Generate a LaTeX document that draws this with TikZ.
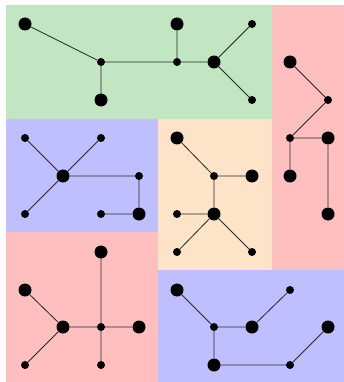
\documentclass[tikz,border=0pt]{standalone}
\begin{document}
\begin{tikzpicture}[x=1pt,y=-1pt,
  pgreen/.style={fill={rgb,255:red,194;green,229;blue,194}},
  pblue/.style={fill={rgb,255:red,191;green,191;blue,255}},
  pred/.style={fill={rgb,255:red,255;green,191;blue,191}},
  porange/.style={fill={rgb,255:red,253;green,228;blue,200}},
  big/.style={circle,fill=black,inner sep=0pt,minimum size=13pt},
  sml/.style={circle,fill=black,inner sep=0pt,minimum size=8pt},
  edge/.style={draw=black!85,line width=0.8pt}]
\useasboundingbox (0,0) rectangle (344,382);
% regions
\path[pgreen] (6,5) rectangle (272,119);
\path[pred] (272,5) rectangle (344,270);
\path[pblue] (6,119) rectangle (158,232);
\path[porange] (158,119) rectangle (272,270);
\path[pred] (6,232) rectangle (158,382);
\path[pblue] (158,270) rectangle (344,382);
% top tree
\node[big] (g1) at (25,24) {};
\node[sml] (g2) at (101,62) {};
\node[big] (g3) at (101,100) {};
\node[big] (g4) at (177,24) {};
\node[sml] (g5) at (177,62) {};
\node[big] (g6) at (214,62) {};
\node[sml] (g7) at (252,24) {};
\node[sml] (g8) at (252,100) {};
\draw[edge] (g1)--(g2) (g2)--(g3) (g2)--(g5) (g4)--(g5) (g5)--(g6) (g6)--(g7) (g6)--(g8);
% right tree
\node[big] (r1) at (290,62) {};
\node[sml] (r2) at (328,100) {};
\node[sml] (r3) at (290,138) {};
\node[big] (r4) at (328,138) {};
\node[big] (r5) at (290,176) {};
\node[big] (r6) at (328,214) {};
\draw[edge] (r1)--(r2) (r2)--(r3) (r3)--(r4) (r3)--(r5) (r4)--(r6);
% left middle tree
\node[sml] (b1) at (25,138) {};
\node[sml] (b2) at (101,138) {};
\node[big] (b3) at (63,176) {};
\node[sml] (b4) at (139,176) {};
\node[sml] (b5) at (25,214) {};
\node[sml] (b6) at (101,214) {};
\node[big] (b7) at (139,214) {};
\draw[edge] (b1)--(b3) (b2)--(b3) (b3)--(b4) (b4)--(b7) (b6)--(b7) (b3)--(b5);
% centre tree
\node[big] (o1) at (177,138) {};
\node[sml] (o2) at (214,176) {};
\node[big] (o3) at (252,176) {};
\node[sml] (o4) at (177,214) {};
\node[big] (o5) at (214,214) {};
\node[sml] (o6) at (177,252) {};
\node[sml] (o7) at (252,252) {};
\draw[edge] (o1)--(o2) (o2)--(o3) (o2)--(o5) (o4)--(o5) (o5)--(o6) (o5)--(o7);
% bottom left tree
\node[big] (p1) at (101,252) {};
\node[big] (p2) at (25,290) {};
\node[big] (p3) at (63,327) {};
\node[sml] (p4) at (101,327) {};
\node[big] (p5) at (139,327) {};
\node[sml] (p6) at (25,365) {};
\node[sml] (p7) at (101,365) {};
\draw[edge] (p1)--(p4) (p2)--(p3) (p3)--(p4) (p4)--(p5) (p3)--(p6) (p4)--(p7);
% bottom right tree
\node[big] (q1) at (177,290) {};
\node[sml] (q2) at (290,290) {};
\node[sml] (q3) at (214,327) {};
\node[big] (q4) at (252,327) {};
\node[big] (q5) at (328,327) {};
\node[big] (q6) at (214,365) {};
\node[sml] (q7) at (290,365) {};
\draw[edge] (q1)--(q3) (q3)--(q4) (q4)--(q2) (q3)--(q6) (q6)--(q7) (q7)--(q5);
\end{tikzpicture}
\end{document}
